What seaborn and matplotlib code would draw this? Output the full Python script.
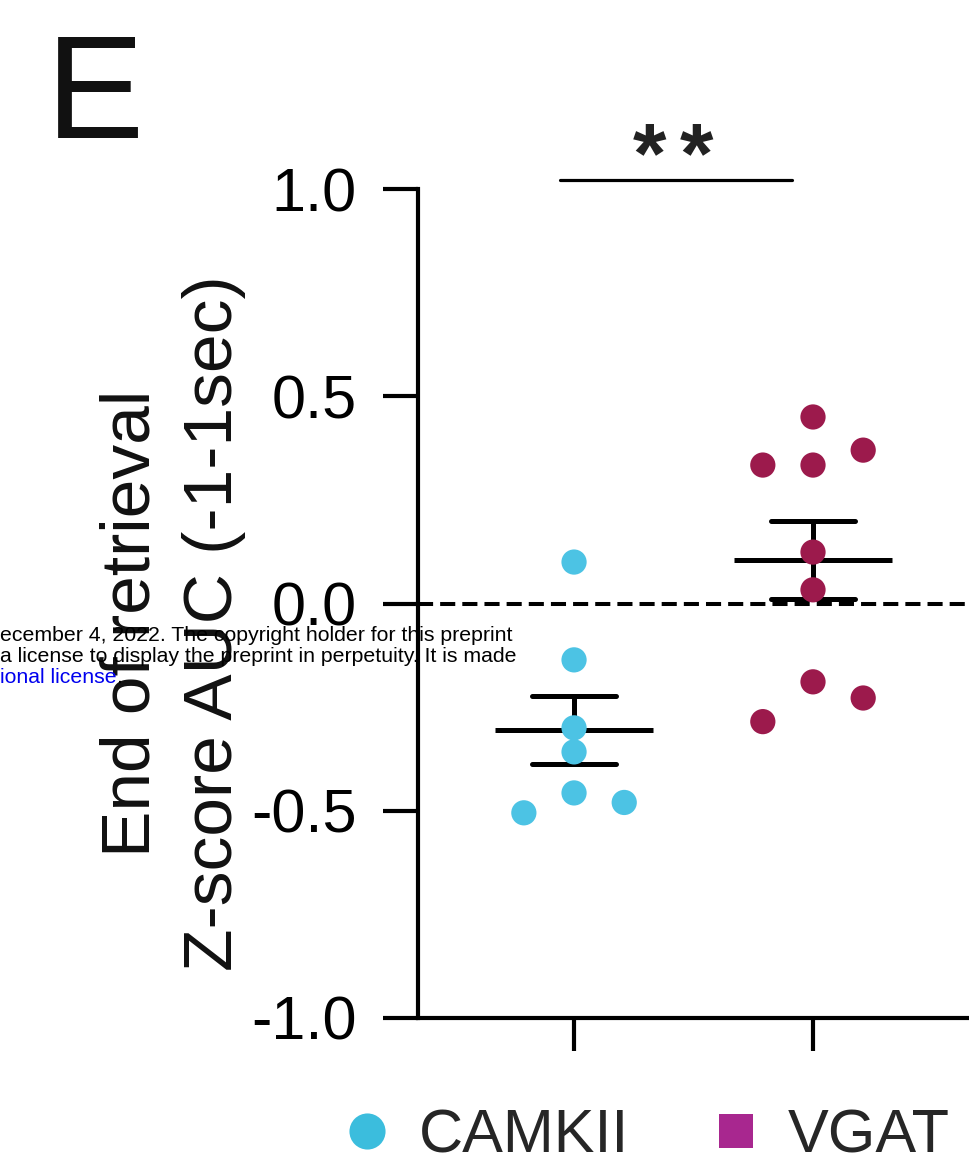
import matplotlib
matplotlib.use("Agg")
import matplotlib.pyplot as plt
from matplotlib.lines import Line2D
import numpy as np
import pandas as pd
import seaborn as sns

# ---------------- data ----------------
groups = ["CAMKII", "VGAT"]
camkii_values = [0.100, -0.136, -0.300, -0.358, -0.457, -0.505, -0.480]
camkii_slots = [0, 0, 0, 0, 0, -1, 1]
vgat_values = [0.450, 0.334, 0.334, 0.370, 0.124, 0.033, -0.189, -0.228, -0.285]
vgat_slots = [0, -1, 0, 1, 0, 0, 0, 1, -1]
yticks = [-1.0, -0.5, 0.0, 0.5, 1.0]
ylabel_text = "End of retrieval\nZ-score AUC (-1-1sec)"
significance = "**"
panel_letter = "E"
watermark_lines = ["ecember 4, 2022. The copyright holder for this preprint",
                   "a license to display the preprint in perpetuity. It is made"]
watermark_link = "ional license"

# ---------------- styling ----------------
sns.set_theme(style="white")
plt.rcParams["font.family"] = ["Liberation Sans", "DejaVu Sans"]
plt.rcParams["axes.unicode_minus"] = False

point_colors = {"CAMKII": "#4cc3e4", "VGAT": "#9c1a4c"}
legend_colors = {"CAMKII": "#3bbddd", "VGAT": "#a8278f"}
slot_spacing = 0.21

df = pd.DataFrame({
    "group": ["CAMKII"] * len(camkii_values) + ["VGAT"] * len(vgat_values),
    "value": camkii_values + vgat_values,
    "slot": camkii_slots + vgat_slots,
})
df["code"] = df["group"].map({g: i for i, g in enumerate(groups)})
df["xpos"] = df["code"] + df["slot"] * slot_spacing

W, H = 970, 1171
fig = plt.figure(figsize=(W / 100, H / 100), dpi=100)
fig.patch.set_facecolor("white")
ax = fig.add_axes([418 / W, 1 - 1018 / H, (W - 418) / W, (1018 - 189) / H])
ax.set_facecolor("white")

# zero reference line
ax.axhline(0, color="black", lw=2.9, ls=(0, (3.75, 1.75)), zorder=1)

# mean +/- SEM
sns.pointplot(data=df, x="code", y="value", native_scale=True, errorbar="se",
              markers="_", linestyles="none", color="black", capsize=0.35,
              markersize=114, markeredgewidth=3.6,
              err_kws={"linewidth": 3.6}, ax=ax, zorder=2)

# individual points
sns.scatterplot(data=df, x="xpos", y="value", hue="group", palette=point_colors,
                s=330, linewidth=0, legend=False, ax=ax, zorder=3)

ax.set_xlim(-0.653, 1.657)
ax.set_ylim(-1.0, 1.0)
ax.set_yticks(yticks)
ax.set_yticklabels([f"{v:.1f}" for v in yticks])
ax.set_xticks(range(len(groups)))
ax.set_xticklabels(["" for _ in groups])
ax.set_xlabel("")
ax.set_ylabel("")

for side in ["top", "right"]:
    ax.spines[side].set_visible(False)
for side in ["left", "bottom"]:
    ax.spines[side].set_linewidth(3)
    ax.spines[side].set_color("black")
ax.tick_params(axis="y", length=25, width=3, pad=19, labelsize=44, color="black",
               labelcolor="black", left=True)
ax.tick_params(axis="x", length=24, width=3, pad=5, color="black", bottom=True)

# significance bar
ax.plot([-0.059, 0.912], [1.022, 1.022], color="black", lw=2.3, clip_on=False)
sig_center, sig_step = 0.414, 0.197
n_sig = len(significance)
for i, ch in enumerate(significance):
    ax.text(sig_center + (i - (n_sig - 1) / 2) * sig_step, 1.017, ch,
            ha="center", va="baseline", fontsize=62, fontweight="bold",
            color="#222222", clip_on=False)

# y label
fig.text(0.178, 1 - 623 / H, ylabel_text, rotation=90, ha="center", va="center",
         fontsize=50, linespacing=1.37, multialignment="center", color="#111111")

# panel letter
fig.text(46 / W, 1 - 138 / H, panel_letter, fontsize=106, ha="left", va="baseline",
         color="#111111")

# legend
handles = [
    Line2D([], [], marker="o", ls="none", markersize=26, markeredgewidth=0,
           markerfacecolor=legend_colors["CAMKII"]),
    Line2D([], [], marker="s", ls="none", markersize=24, markeredgewidth=0,
           markerfacecolor=legend_colors["VGAT"]),
]
fig.legend(handles, groups, loc="center", bbox_to_anchor=(646 / W, 1 - 1137 / H),
           ncol=2, frameon=False, fontsize=44, handlelength=0.8,
           handletextpad=0.45, columnspacing=1.35, borderpad=0)

# watermark overlay
base = [641, 662]
for line, yb in zip(watermark_lines, base):
    fig.text(0, 1 - yb / H, line, fontsize=15.3, ha="left", va="baseline",
             color="black", zorder=10)
t = fig.text(0, 1 - 683 / H, watermark_link, fontsize=15.3, ha="left",
             va="baseline", color="#0000ee", zorder=10)
fig.canvas.draw()
bb = t.get_window_extent()
fig.text(bb.x1 / W, 1 - 683 / H, ".", fontsize=15.3, ha="left", va="baseline",
         color="black", zorder=10)

fig.savefig("out.png", dpi=100)
